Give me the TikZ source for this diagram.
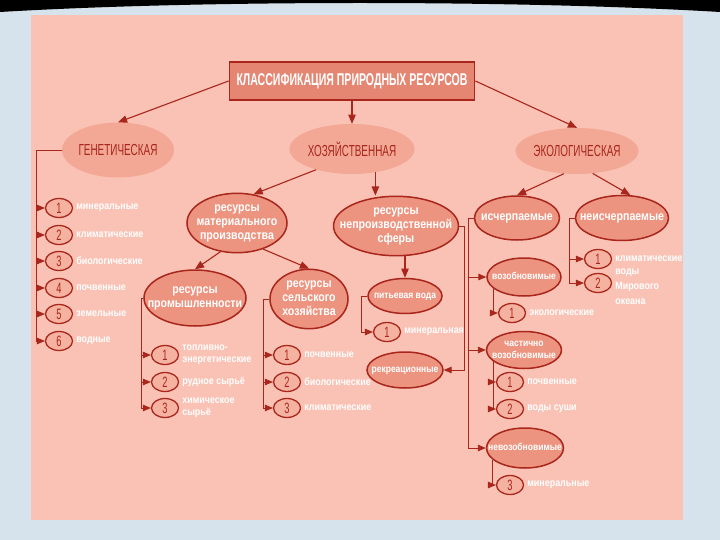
\documentclass[tikz,border=0pt]{standalone}
\usepackage{fontspec}
\setmainfont{Liberation Sans}[FakeStretch=0.85]
\newfontfamily\capsfont{Liberation Sans}[FakeStretch=0.62]
\usetikzlibrary{arrows}
\usetikzlibrary{shapes,positioning,calc}

\definecolor{framebg}{RGB}{214,226,236}
\definecolor{panel}{RGB}{250,194,180}
\definecolor{darkred}{RGB}{168,38,28}
\definecolor{ovalfill}{RGB}{237,148,128}
\definecolor{topfill}{RGB}{243,168,150}
\definecolor{boxfill}{RGB}{228,134,114}
\definecolor{numfill}{RGB}{246,178,160}

\newcommand\ovtext[1]{\makebox[0pt]{\begin{tabular}{@{}c@{}}#1\end{tabular}}}

\begin{document}
\begin{tikzpicture}[x=1pt, y=-1pt,
		arr/.style={draw=darkred, line width=1.1pt, -triangle 45},
		barr/.style={draw=darkred, line width=0.8pt, -triangle 45},
		brace/.style={draw=darkred, line width=0.8pt},
		titlebox/.style={draw=darkred, line width=1.8pt, fill=boxfill, text=white, minimum width=245, minimum height=38, font=\capsfont\bfseries\fontsize{17}{18}\selectfont},
		topoval/.style={ellipse, fill=topfill, text=darkred, inner sep=0, font=\capsfont\fontsize{16}{18}\selectfont},
		oval/.style={ellipse, draw=darkred, line width=1.5pt, fill=ovalfill, text=white, inner sep=0, font=\bfseries\fontsize{12.5}{14}\selectfont},
		soval/.style={oval, font=\bfseries\fontsize{10}{12}\selectfont},
		num/.style={ellipse, draw=darkred, line width=1.3pt, fill=numfill, text=darkred, minimum width=27, minimum height=19, inner sep=0, font=\capsfont\fontsize{15}{15}\selectfont},
		lbl/.style={text=white, align=left, inner sep=0, font=\bfseries\fontsize{10.5}{12}\selectfont}]
			\useasboundingbox (0,0) rectangle (720,540);
			\fill[framebg] (0,0) rectangle (720,540);
			\fill[black] (0,0) -- (720,0) -- (720,12) .. controls (520,0) and (200,0) .. (0,12) -- cycle;
			\fill[panel] (31,15) rectangle (683,520);

			\node[titlebox] (cls) at (352,81) {КЛАССИФИКАЦИЯ ПРИРОДНЫХ РЕСУРСОВ};
			\node[topoval, minimum width=112, minimum height=55] (gen) at (118,150) {ГЕНЕТИЧЕСКАЯ};
			\node[topoval, minimum width=115, minimum height=50] (hoz) at (352,149) {ХОЗЯЙСТВЕННАЯ};
			\node[topoval, minimum width=115, minimum height=46] (eco) at (577,151) {ЭКОЛОГИЧЕСКАЯ};
			\draw[arr] (cls.west) -- (gen.north);
			\draw[arr] (cls.south) -- (hoz.north);
			\draw[arr] (cls.east) -- (eco.north);

			\node[oval, minimum width=100, minimum height=57] (mat) at (237,223) {\ovtext{ресурсы\\материального\\производства}};
			\node[oval, minimum width=125, minimum height=58] (nep) at (396,226) {\ovtext{ресурсы\\непроизводственной\\сферы}};
			\node[oval, minimum width=102, minimum height=56] (ind) at (195,298) {\ovtext{ресурсы\\промышленности}};
			\node[oval, minimum width=78, minimum height=58] (agr) at (309,299) {\ovtext{ресурсы\\сельского\\хозяйства}};
			\node[soval, minimum width=74, minimum height=35] (pit) at (405,296) {\ovtext{питьевая вода}};
			\node[soval, minimum width=76, minimum height=36] (rek) at (405,370) {\ovtext{рекреационные}};
			\draw[arr] (hoz.210) -- (mat.60);
			\draw[arr] (hoz.-45) -- (hoz.-45 |- nep.north);
			\draw[arr] (mat.240) -- (ind.north);
			\draw[arr] (mat.-45) -- (agr.north);
			\draw[arr] (pit.north |- nep.south) -- (pit.north);
			\draw[barr] (nep.east) -- ++(5,0) |- (rek.east);

			\node[oval, minimum width=85, minimum height=44] (isc) at (517,218) {\ovtext{исчерпаемые}};
			\node[oval, minimum width=93, minimum height=45] (neis) at (622,218) {\ovtext{неисчерпаемые}};
			\node[soval, minimum width=74, minimum height=38] (voz) at (524,277) {\ovtext{возобновимые}};
			\node[soval, minimum width=75, minimum height=37] (cha) at (524,350) {\ovtext{частично\\возобновимые}};
			\node[soval, minimum width=77, minimum height=40] (nev) at (525,448) {\ovtext{невозобновимые}};
			\draw[arr] (eco.240) -- (isc.north);
			\draw[arr] (eco.-55) -- (neis.70);

			\foreach \i/\y/\t in {1/208/минеральные, 2/235/климатические, 3/261/биологические, 4/288/почвенные, 5/314/земельные, 6/341/водные}{
				\node[num] (g\i) at (59,\y) {\i};
				\node[lbl, right=3pt of g\i] (gt\i) {\t};
			}
			\coordinate (gb) at ($(gen.west)+(-25,0)$);
			\draw[brace] (gen.west) -- (gb);
			\draw[barr] (gb) |- (g6.west);
			\foreach \i in {1,...,5} \draw[barr] (gb |- g\i.west) -- (g\i.west);

			\node[num] (i1) at (165,355) {1};
			\node[num] (i2) at (165,382) {2};
			\node[num] (i3) at (165,408) {3};
			\node[lbl, right=3pt of i1] (it1) {топливно-\\энергетические};
			\node[lbl, right=3pt of i2] (it2) {рудное сырьё};
			\node[lbl, right=3pt of i3] (it3) {химическое\\сырьё};
			\coordinate (ib) at ($(ind.west)+(-2,0)$);
			\draw[brace] (ind.west) -- (ib);
			\draw[barr] (ib) |- (i3.west);
			\draw[barr] (ib |- i1.west) -- (i1.west);
			\draw[barr] (ib |- i2.west) -- (i2.west);

			\node[num] (a1) at (287,355) {1};
			\node[num] (a2) at (287,382) {2};
			\node[num] (a3) at (287,408) {3};
			\node[lbl, right=3pt of a1] (at1) {почвенные};
			\node[lbl, right=3pt of a2] (at2) {биологические};
			\node[lbl, right=3pt of a3] (at3) {климатические};
			\coordinate (ab) at ($(agr.west)+(-6,0)$);
			\draw[brace] (agr.west) -- (ab);
			\draw[barr] (ab) |- (a3.west);
			\draw[barr] (ab |- a1.west) -- (a1.west);
			\draw[barr] (ab |- a2.west) -- (a2.west);

			\node[num] (m1) at (387,332) {1};
			\node[lbl, right=3pt of m1] (mt1) {минеральная};
			\draw[barr] (pit.west) -- ++(-6,0) |- (m1.west);

			\coordinate (sb) at ($(isc.west)+(-5,0)$);
			\draw[brace] (isc.west) -- (sb);
			\draw[barr] (sb) |- (nev.west);
			\draw[barr] (sb |- voz.west) -- (voz.west);
			\draw[barr] (sb |- cha.west) -- (cha.west);

			\node[num] (v1) at (512,313) {1};
			\node[lbl, right=3pt of v1] (vt1) {экологические};
			\draw[barr] (voz.200) |- (v1.west);

			\node[num] (c1) at (510,382) {1};
			\node[num] (c2) at (510,409) {2};
			\node[lbl, right=3pt of c1] (ct1) {почвенные};
			\node[lbl, right=3pt of c2] (ct2) {воды суши};
			\draw[barr] (cha.200) |- (c2.west);
			\draw[barr] (cha.200 |- c1.west) -- (c1.west);

			\node[num] (n3) at (510,485) {3};
			\node[lbl, right=3pt of n3] (nt3) {минеральные};
			\draw[barr] (nev.200) |- (n3.west);

			\node[num] (e1) at (598,259) {1};
			\node[num] (e2) at (598,283) {2};
			\node[lbl, right=3pt of e1] (et1) {климатические};
			\node[lbl, right=3pt of e2, yshift=-4pt, font=\bfseries\fontsize{10.5}{15}\selectfont] (et2) {воды\\Мирового\\океана};
			\coordinate (nb) at ($(neis.west)+(-5,0)$);
			\draw[brace] (neis.west) -- (nb);
			\draw[barr] (nb) |- (e2.west);
			\draw[barr] (nb |- e1.west) -- (e1.west);
		\end{tikzpicture}
\end{document}
